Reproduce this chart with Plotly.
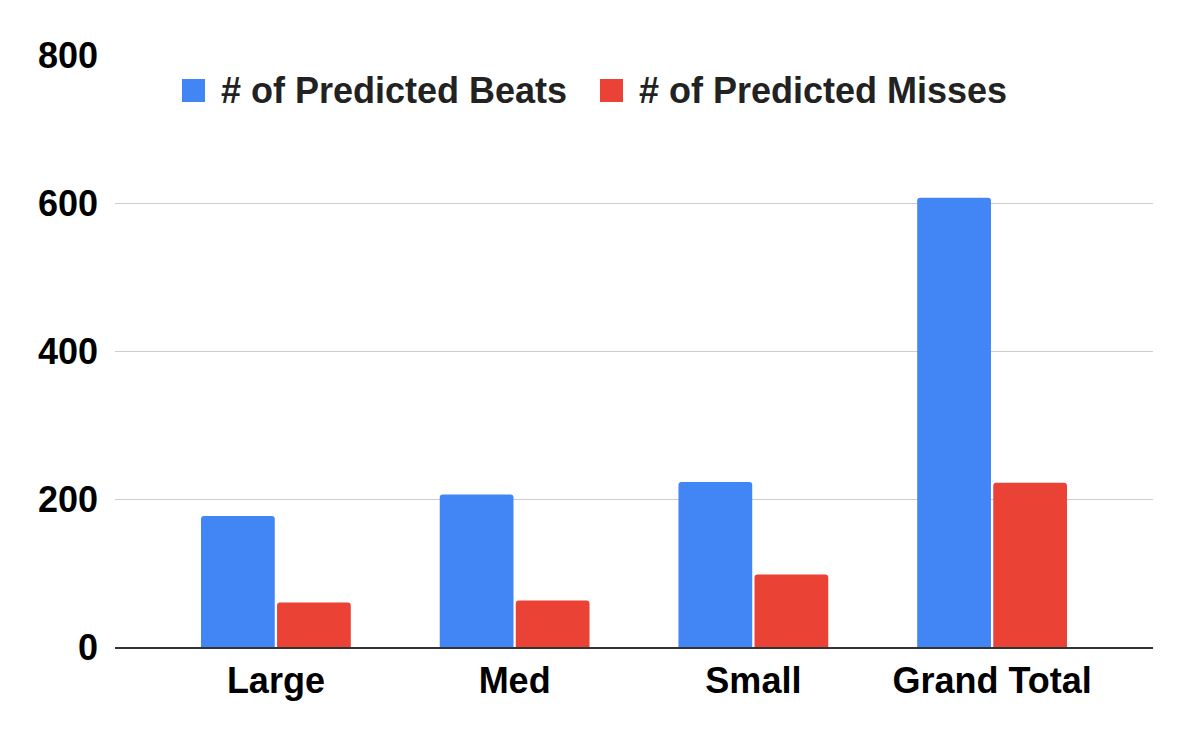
import plotly.graph_objects as go

categories = ["Large", "Med", "Small", "Grand Total"]
beats = [177, 206, 223, 607]
misses = [60, 63, 98, 222]
series_names = ["# of Predicted Beats", "# of Predicted Misses"]
y_ticks = [0, 200, 400, 600, 800]

BLUE = "#4285F4"
RED = "#EA4335"
FONT = "Liberation Sans, Arial, sans-serif"

OFF = 8  # page body margin offset
W, H = 1190 - OFF, 738 - OFF
# plot area in window pixels (reference): x 115..1153, y 55..647
PX0, PX1, PY0, PY1 = 115, 1153, 55, 647
L = PX0 - OFF
T = PY0 - OFF
R = W - (PX1 - OFF)
B = H - (PY1 - OFF)
pw = PX1 - PX0
ph = PY1 - PY0

fig = go.Figure()
fig.add_trace(go.Bar(x=categories, y=beats, name=series_names[0],
                     marker=dict(color=BLUE, line=dict(width=0)), showlegend=False))
fig.add_trace(go.Bar(x=categories, y=misses, name=series_names[1],
                     marker=dict(color=RED, line=dict(width=0)), showlegend=False))

def px_x(p):
    return (p - PX0) / pw

def px_y(p):
    return (PY1 - p) / ph

# manual legend (squares + text)
legend_items = [(182, 221, BLUE, series_names[0]), (600, 639, RED, series_names[1])]
shapes = []
annotations = []
for sq_x, tx, col, name in legend_items:
    shapes.append(dict(type="rect", xref="paper", yref="paper",
                       x0=px_x(sq_x), x1=px_x(sq_x + 23), y0=px_y(102), y1=px_y(79),
                       fillcolor=col, line=dict(width=0), layer="above"))
    annotations.append(dict(xref="paper", yref="paper", x=px_x(tx - 1), y=px_y(90.5),
                            xanchor="left", yanchor="middle", showarrow=False,
                            text=name, borderpad=0,
                            font=dict(family=FONT, size=36, color="#222222", weight="bold")))

fig.update_layout(
    width=W, height=H,
    margin=dict(l=L, r=R, t=T, b=B),
    paper_bgcolor="white", plot_bgcolor="white",
    barmode="group", bargap=0.363, bargroupgap=0.03, barcornerradius=3,
    font=dict(family=FONT, size=36, color="#000000", weight="bold"),
    shapes=shapes, annotations=annotations,
    xaxis=dict(range=[-0.674, 3.674], showgrid=False, showline=True,
               linecolor="#333333", linewidth=2, ticks="", ticklabelstandoff=1,
               tickfont=dict(family=FONT, size=36, color="#000000", weight="bold")),
    yaxis=dict(range=[0, 800], tickvals=y_ticks, showgrid=True, gridcolor="#CCCCCC",
               gridwidth=1, zeroline=False, showline=False, ticks="",
               ticklabelstandoff=16,
               tickfont=dict(family=FONT, size=36, color="#000000", weight="bold")),
)

fig.write_html("out.html")
